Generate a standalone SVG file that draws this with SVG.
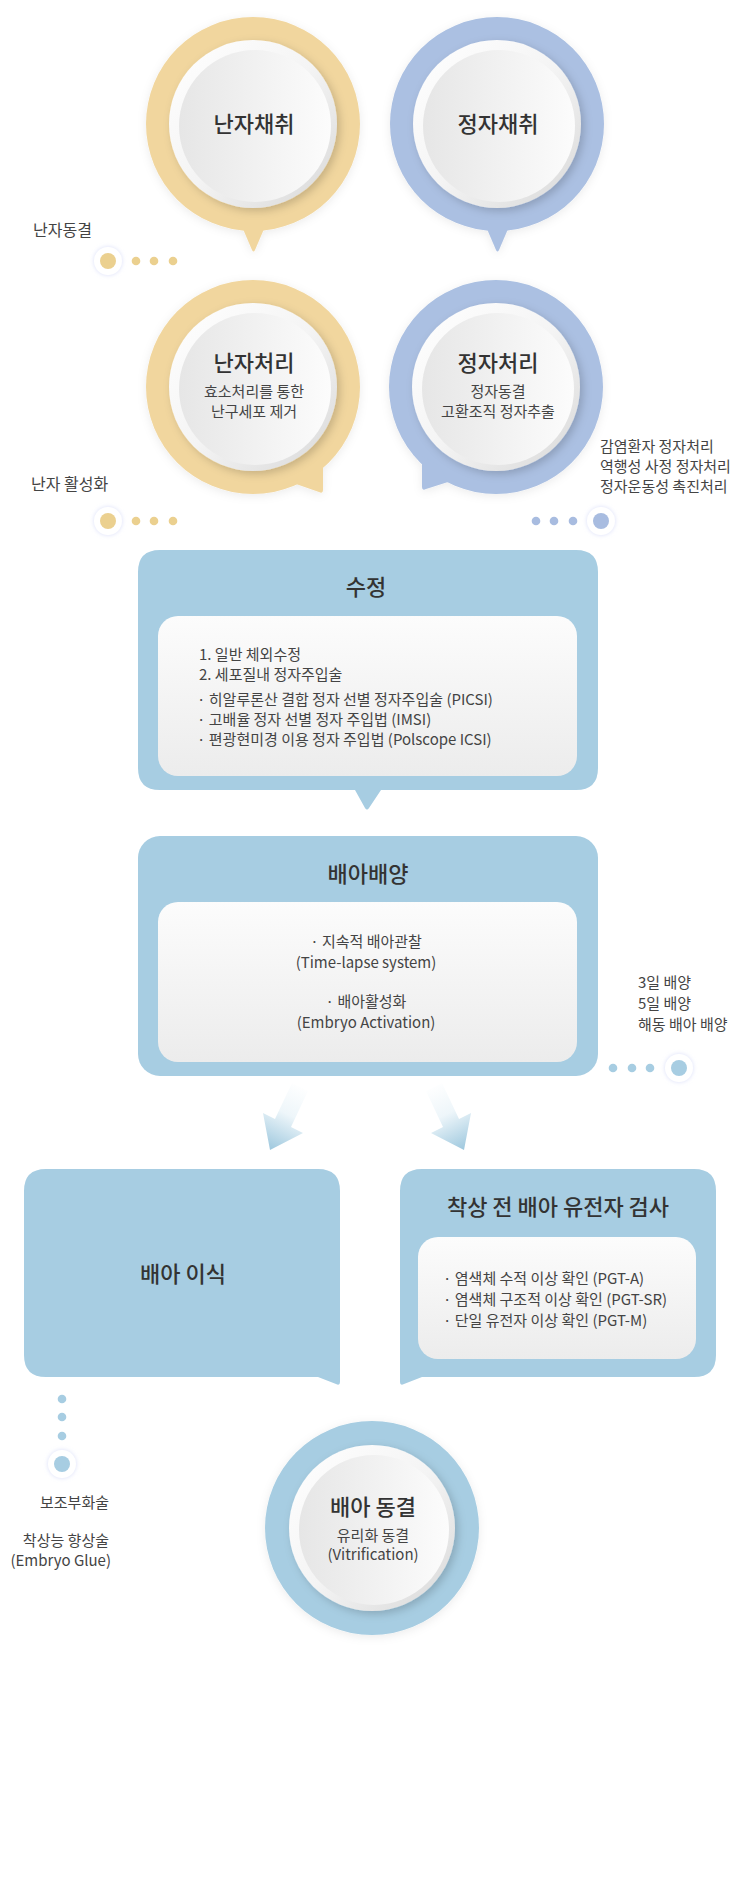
<svg xmlns="http://www.w3.org/2000/svg" width="743" height="1893" viewBox="0 0 743 1893">
<style>
text{font-family:"Noto Sans CJK KR","Noto Sans",sans-serif;fill:#333;}
.t{font-size:22px;font-weight:500;text-anchor:middle;fill:#333;}
.s{font-size:15px;text-anchor:middle;fill:#444;}
.b{font-size:15px;fill:#444;}
.l{font-size:16px;fill:#444;}
.r{font-size:15px;fill:#444;}
.gold{fill:#f1d69e;}
.lav{fill:#abc0e2;}
.blue{fill:#a7cde2;}
.dg{fill:#ebd08f;}
.dl{fill:#a8bce0;}
.db{fill:#a7cde2;}
</style>
<defs>
<filter id="glow" x="-20%" y="-20%" width="140%" height="140%">
<feDropShadow dx="0" dy="2" stdDeviation="5" flood-color="#000" flood-opacity="0.08"/>
</filter>
<filter id="btn" x="-20%" y="-20%" width="140%" height="140%">
<feDropShadow dx="3" dy="3" stdDeviation="4" flood-color="#000" flood-opacity="0.18"/>
</filter>
<filter id="halo" x="-50%" y="-50%" width="200%" height="200%">
<feDropShadow dx="0" dy="0" stdDeviation="2" flood-color="#c9cff6" flood-opacity="0.7"/>
</filter>
<linearGradient id="rim" x1="0" y1="0" x2="1" y2="1">
<stop offset="0" stop-color="#ffffff"/>
<stop offset="0.5" stop-color="#f4f4f4"/>
<stop offset="1" stop-color="#d8d8d8"/>
</linearGradient>
<linearGradient id="face" x1="0" y1="0" x2="1" y2="0">
<stop offset="0" stop-color="#e6e6e6"/>
<stop offset="1" stop-color="#fcfcfc"/>
</linearGradient>
<linearGradient id="panel" x1="0" y1="0" x2="0" y2="1">
<stop offset="0" stop-color="#fcfcfc"/>
<stop offset="1" stop-color="#ececec"/>
</linearGradient>
<linearGradient id="arrL" gradientUnits="userSpaceOnUse" x1="302" y1="1085" x2="270" y2="1150">
<stop offset="0" stop-color="#ffffff"/>
<stop offset="0.45" stop-color="#eef6fa"/>
<stop offset="1" stop-color="#9ec8de"/>
</linearGradient>
<linearGradient id="arrR" gradientUnits="userSpaceOnUse" x1="432" y1="1085" x2="464" y2="1150">
<stop offset="0" stop-color="#ffffff"/>
<stop offset="0.45" stop-color="#eef6fa"/>
<stop offset="1" stop-color="#9ec8de"/>
</linearGradient>
</defs>
<rect width="743" height="1893" fill="#ffffff"/>

<g id="egg-retrieval">
<g filter="url(#glow)">
<circle class="gold" cx="253" cy="124" r="107"/>
<path class="gold" d="M240,222 L252,250 Q253.5,253 255,250 L267,222 Z"/>
</g>
<circle cx="253" cy="124" r="84" fill="url(#rim)" filter="url(#btn)"/>
<circle cx="255" cy="126" r="76" fill="url(#face)"/>
<text class="t" x="254" y="132">난자채취</text>
</g>

<g id="sperm-retrieval">
<g filter="url(#glow)">
<circle class="lav" cx="497" cy="124" r="107"/>
<path class="lav" d="M484,222 L496,250 Q497.5,253 499,250 L511,222 Z"/>
</g>
<circle cx="497" cy="124" r="84" fill="url(#rim)" filter="url(#btn)"/>
<circle cx="499" cy="126" r="76" fill="url(#face)"/>
<text class="t" x="498" y="132">정자채취</text>
</g>

<g id="egg-processing">
<g filter="url(#glow)">
<circle class="gold" cx="253" cy="387" r="107"/>
<path class="gold" d="M323,458 L323,490 Q323,494 319,492 L296,484 L300,468 Z"/>
</g>
<circle cx="253" cy="387" r="84" fill="url(#rim)" filter="url(#btn)"/>
<circle cx="255" cy="389" r="76" fill="url(#face)"/>
<text class="t" x="254" y="371">난자처리</text>
<text class="s" x="254" y="397">효소처리를 통한</text>
<text class="s" x="254" y="417">난구세포 제거</text>
</g>

<g id="sperm-processing">
<g filter="url(#glow)">
<circle class="lav" cx="496" cy="387" r="107"/>
<path class="lav" d="M422,456 L422,487 Q422,491 426,489 L448,482 L440,466 Z"/>
</g>
<circle cx="496" cy="387" r="84" fill="url(#rim)" filter="url(#btn)"/>
<circle cx="498" cy="389" r="76" fill="url(#face)"/>
<text class="t" x="498" y="371">정자처리</text>
<text class="s" x="498" y="397">정자동결</text>
<text class="s" x="498" y="417">고환조직 정자추출</text>
</g>

<g id="label-egg-freezing">
<text class="l" x="33" y="236">난자동결</text>
</g>
<g id="label-egg-activation">
<text class="l" x="31" y="490">난자 활성화</text>
</g>
<g id="label-sperm-special">
<text class="r" x="600" y="452">감염환자 정자처리</text>
<text class="r" x="600" y="472">역행성 사정 정자처리</text>
<text class="r" x="600" y="492">정자운동성 촉진처리</text>
</g>

<g id="fertilization">
<path class="blue" d="M160,550 H576 Q598,550 598,572 V768 Q598,790 576,790 H381 L369,808 Q367,811 365,808 L355,790 H160 Q138,790 138,768 V572 Q138,550 160,550 Z"/>
<text class="t" x="366" y="595">수정</text>
<rect x="158" y="616" width="419" height="160" rx="20" fill="url(#panel)"/>
<text class="b" x="199" y="660">1. 일반 체외수정</text>
<text class="b" x="199" y="680">2. 세포질내 정자주입술</text>
<text class="b" x="197" y="705">· 히알루론산 결합 정자 선별 정자주입술 (PICSI)</text>
<text class="b" x="197" y="725">· 고배율 정자 선별 정자 주입법 (IMSI)</text>
<text class="b" x="197" y="745">· 편광현미경 이용 정자 주입법 (Polscope ICSI)</text>
</g>

<g id="embryo-culture">
<rect class="blue" x="138" y="836" width="460" height="240" rx="22"/>
<text class="t" x="368" y="882">배아배양</text>
<rect x="158" y="902" width="419" height="160" rx="20" fill="url(#panel)"/>
<text class="s" x="366" y="947">· 지속적 배아관찰</text>
<text class="s" x="366" y="968">(Time-lapse system)</text>
<text class="s" x="366" y="1007">· 배아활성화</text>
<text class="s" x="366" y="1028">(Embryo Activation)</text>
</g>

<g id="label-culture">
<text class="r" x="638" y="988">3일 배양</text>
<text class="r" x="638" y="1009">5일 배양</text>
<text class="r" x="638" y="1030">해동 배아 배양</text>
</g>

<g id="embryo-transfer">
<path class="blue" d="M46,1169 H318 Q340,1169 340,1191 V1382 Q340,1386 336,1384 L318,1377 H46 Q24,1377 24,1355 V1191 Q24,1169 46,1169 Z"/>
<text class="t" x="183" y="1282">배아 이식</text>
</g>

<g id="pgt">
<path class="blue" d="M422,1169 H694 Q716,1169 716,1191 V1355 Q716,1377 694,1377 H422 L404,1384 Q400,1386 400,1382 V1191 Q400,1169 422,1169 Z"/>
<text class="t" x="558" y="1215">착상 전 배아 유전자 검사</text>
<rect x="418" y="1237" width="278" height="122" rx="20" fill="url(#panel)"/>
<text class="b" x="443" y="1284">· 염색체 수적 이상 확인 (PGT-A)</text>
<text class="b" x="443" y="1305">· 염색체 구조적 이상 확인 (PGT-SR)</text>
<text class="b" x="443" y="1326">· 단일 유전자 이상 확인 (PGT-M)</text>
</g>

<g id="label-assist">
<text class="r" x="109" y="1508" text-anchor="end">보조부화술</text>
<text class="r" x="109" y="1546" text-anchor="end">착상능 향상술</text>
<text class="r" x="111" y="1566" text-anchor="end">(Embryo Glue)</text>
</g>

<g id="embryo-freezing">
<circle class="blue" cx="372" cy="1528" r="107" filter="url(#glow)"/>
<circle cx="372" cy="1528" r="83" fill="url(#rim)" filter="url(#btn)"/>
<circle cx="374" cy="1530" r="75" fill="url(#face)"/>
<text class="t" x="373" y="1515">배아 동결</text>
<text class="s" x="373" y="1541">유리화 동결</text>
<text class="s" x="373" y="1560">(Vitrification)</text>
</g>

<g id="connectors">
<polygon fill="url(#arrL)" points="292,1083 308,1091 291,1127 303,1133 270,1150 263,1113 275,1119"/>
<polygon fill="url(#arrR)" points="442,1083 426,1091 443,1127 431,1133 464,1150 471,1113 459,1119"/>

<circle cx="108" cy="261" r="14" fill="#fff" filter="url(#halo)"/>
<circle class="dg" cx="108" cy="261" r="8"/>
<circle class="dg" cx="136" cy="261" r="4.3"/>
<circle class="dg" cx="154" cy="261" r="4.3"/>
<circle class="dg" cx="173" cy="261" r="4.3"/>

<circle cx="108" cy="521" r="14" fill="#fff" filter="url(#halo)"/>
<circle class="dg" cx="108" cy="521" r="8"/>
<circle class="dg" cx="136" cy="521" r="4.3"/>
<circle class="dg" cx="154" cy="521" r="4.3"/>
<circle class="dg" cx="173" cy="521" r="4.3"/>

<circle class="dl" cx="536" cy="521" r="4.3"/>
<circle class="dl" cx="554" cy="521" r="4.3"/>
<circle class="dl" cx="573" cy="521" r="4.3"/>
<circle cx="601" cy="521" r="14" fill="#fff" filter="url(#halo)"/>
<circle class="dl" cx="601" cy="521" r="8"/>

<circle class="db" cx="613" cy="1068" r="4.3"/>
<circle class="db" cx="632" cy="1068" r="4.3"/>
<circle class="db" cx="650" cy="1068" r="4.3"/>
<circle cx="679" cy="1068" r="14" fill="#fff" filter="url(#halo)"/>
<circle class="db" cx="679" cy="1068" r="8"/>

<circle class="db" cx="62" cy="1399" r="4.3"/>
<circle class="db" cx="62" cy="1417" r="4.3"/>
<circle class="db" cx="62" cy="1436" r="4.3"/>
<circle cx="62" cy="1464" r="14" fill="#fff" filter="url(#halo)"/>
<circle class="db" cx="62" cy="1464" r="8"/>
</g>
</svg>
